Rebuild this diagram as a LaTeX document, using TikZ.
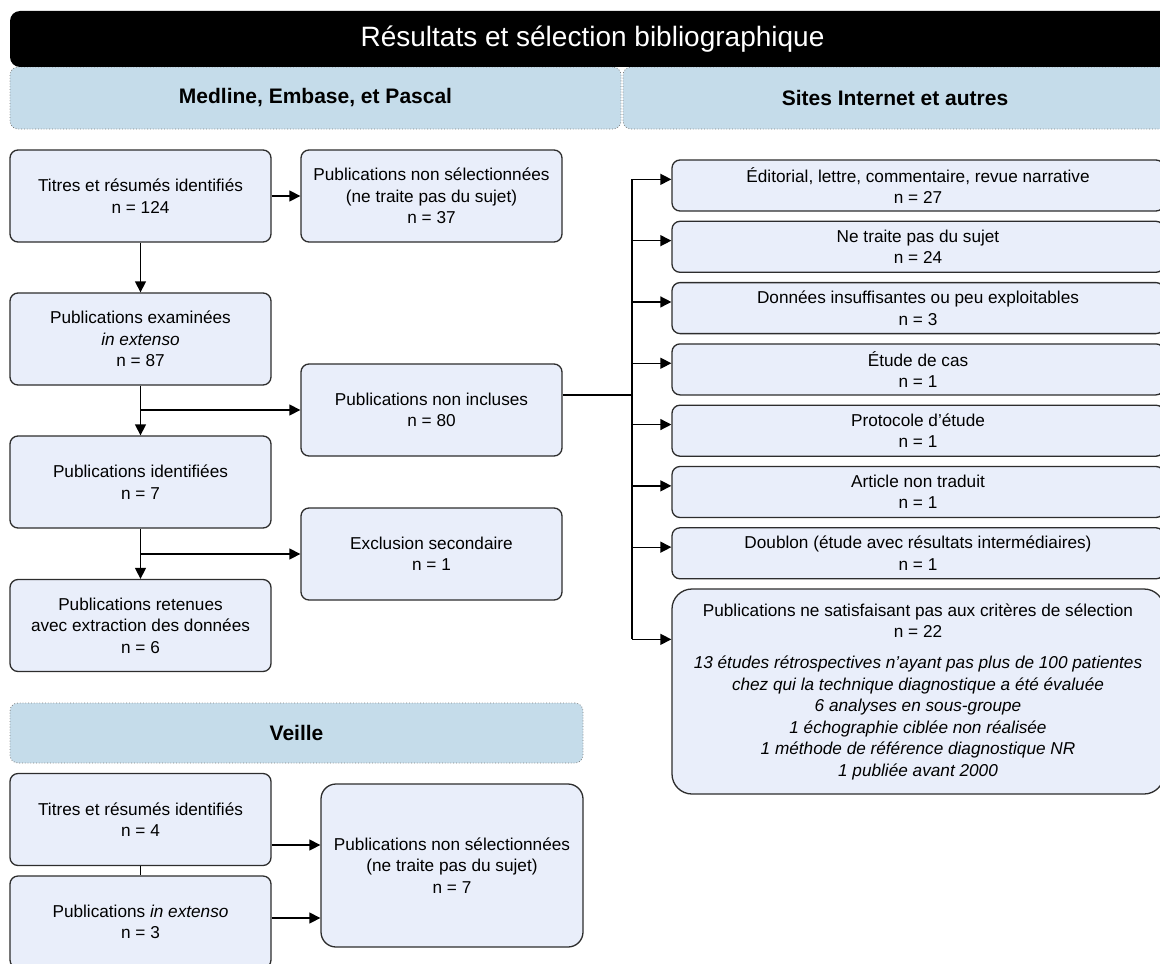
\documentclass[tikz,border=0pt]{standalone}
\usepackage{fontspec}
\setmainfont{Liberation Sans}
\usetikzlibrary{arrows.meta}

\definecolor{boxfill}{RGB}{233,238,250}
\definecolor{headfill}{RGB}{197,220,234}
\definecolor{boxline}{RGB}{45,45,45}

\tikzset{
	pub/.style={draw=boxline, fill=boxfill, rounded corners=4pt, line width=0.65pt, align=center, inner sep=2pt,
		font=\fontsize{8.6}{10.75}\selectfont},
	lbox/.style={pub, minimum width=130.5pt, minimum height=46pt},
	rbox/.style={pub, minimum width=246pt, minimum height=25.5pt},
	head/.style={draw=gray, densely dotted, fill=headfill, rounded corners=4pt, minimum height=31pt,
		font=\bfseries\fontsize{10.5}{12}\selectfont},
	flow/.style={line width=0.65pt, -{Triangle[length=5.5pt,width=5.5pt]}},
	link/.style={line width=0.65pt}
}

\begin{document}
\begin{tikzpicture}[x=0.5pt,y=-0.5pt]
		\useasboundingbox (0,0) rectangle (1160,963);
		\clip (0,0) rectangle (1160,963);
		
		%% bandeaux
		\node[head, minimum width=305.5pt] (medline) at (315.5,98) {Medline, Embase, et Pascal};
		\node[head, minimum width=272pt] (sites) at (895,98) {Sites Internet et autres};
		\node[fill=black, text=white, rounded corners=5pt, minimum width=582.5pt, minimum height=28pt,
			font=\fontsize{14}{16}\selectfont] (titre) at (592.5,39) {Résultats et sélection bibliographique};
		
		%% colonne de gauche
		\node[lbox] (titres) at (140.5,196) {Titres et résumés identifiés\\n = 124};
		\node[lbox] (nonsel) at (431.5,196) {Publications non sélectionnées\\(ne traite pas du sujet)\\n = 37};
		\node[lbox] (exam) at (140.5,339) {Publications examinées\\\textit{in extenso}\\n = 87};
		\node[lbox] (noninc) at (431.5,410) {Publications non incluses\\n = 80};
		\node[lbox] (ident) at (140.5,482) {Publications identifiées\\n = 7};
		\node[lbox] (exclu) at (431.5,554) {Exclusion secondaire\\n = 1};
		\node[lbox] (reten) at (140.5,625.5) {Publications retenues\\avec extraction des données\\n = 6};
		
		\draw[flow] (titres) -- (nonsel);
		\draw[flow] (titres) -- (exam);
		\draw[flow] (exam) -- (ident);
		\draw[flow] (ident) -- (reten);
		\draw[flow] (exam.south |- noninc.west) -- (noninc.west);
		\draw[flow] (ident.south |- exclu.west) -- (exclu.west);
		
		%% motifs de non inclusion
		\foreach \i/\txt/\n in {1/{Éditorial, lettre, commentaire, revue narrative}/27,
			2/{Ne traite pas du sujet}/24,
			3/{Données insuffisantes ou peu exploitables}/3,
			4/{Étude de cas}/1,
			5/{Protocole d’étude}/1,
			6/{Article non traduit}/1,
			7/{Doublon (étude avec résultats intermédiaires)}/1}{
			\node[rbox] (motif\i) at (918,{185.5+61.3*(\i-1)}) {\txt\\n = \n};
			\coordinate (in\i) at ([yshift=-10pt]motif\i.north west);
		}
		\node[pub, rounded corners=10pt, minimum width=246pt, minimum height=102.5pt] (criteres) at (918,691.5)
			{Publications ne satisfaisant pas aux critères de sélection\\n = 22\\[4.75pt]
			\textit{13 études rétrospectives n’ayant pas plus de 100 patientes}\\
			\textit{chez qui la technique diagnostique a été évaluée}\\
			\textit{6 analyses en sous-groupe}\\
			\textit{1 échographie ciblée non réalisée}\\
			\textit{1 méthode de référence diagnostique NR}\\
			\textit{1 publiée avant 2000}};
		\coordinate (in8) at ([yshift=-25.5pt]criteres.north west);
		
		\coordinate (tronc) at (632,395);
		\draw[link] ([yshift=7.5pt]noninc.east) -- (tronc);
		\draw[link] (tronc |- in1) -- (tronc |- in8);
		\foreach \i in {1,...,8}{
			\draw[flow] (tronc |- in\i) -- (in\i);
		}
		
		%% veille
		\node[head, minimum width=286.5pt, minimum height=30pt] (veille) at (296.5,733) {Veille};
		\node[lbox] (vtitres) at (140.5,819.5) {Titres et résumés identifiés\\n = 4};
		\node[lbox] (vext) at (140.5,922) {Publications \textit{in extenso}\\n = 3};
		\node[pub, rounded corners=7.5pt, minimum width=131pt, minimum height=81.5pt] (vnonsel) at (452,865.5)
			{Publications non sélectionnées\\(ne traite pas du sujet)\\n = 7};
		
		\draw[link] (vtitres) -- (vext);
		\coordinate (vout1) at ([yshift=-12.75pt]vtitres.east);
		\coordinate (vout2) at ([yshift=2pt]vext.east);
		\draw[flow] (vout1) -- (vout1 -| vnonsel.west);
		\draw[flow] (vout2) -- (vout2 -| vnonsel.west);
\end{tikzpicture}
\end{document}
